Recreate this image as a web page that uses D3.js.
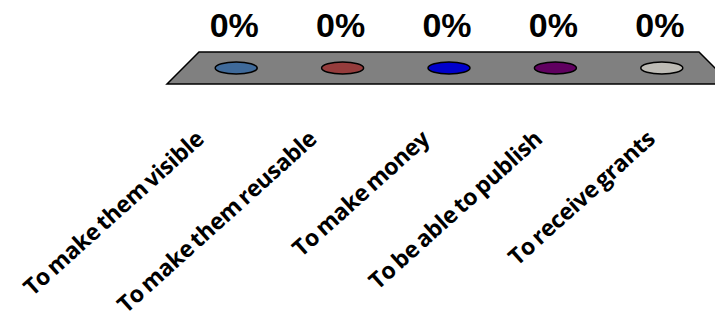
<!DOCTYPE html>
<html>
<head>
<meta charset="utf-8">
<script src="https://cdn.jsdelivr.net/npm/d3@7"></script>
<style>
  html, body { margin: 0; padding: 0; background: #fff; }
  svg { display: block; }
</style>
</head>
<body>
<svg id="chart" width="715" height="320"></svg>
<script>
// Reasons given, share of answers per reason
const categories = [
  "To make them visible",
  "To make them reusable",
  "To make money",
  "To be able to publish",
  "To receive grants"
];
const values = [0, 0, 0, 0, 0];
const colors = ["#3F6A9A", "#953C3C", "#0000CC", "#600060", "#BDBBB5"];

const svg = d3.select("#chart");

// Floor of the 3D plot: back edge, depth-middle line and front edge
const floorBackY = 52, floorFrontY = 84, floorMidY = (floorBackY + floorFrontY) / 2;
const xBack = d3.scaleBand().domain(categories).range([199, 699]);
const xMid = d3.scaleBand().domain(categories).range([183, 715]);
const xFront = d3.scaleBand().domain(categories).range([167, 731]);

// Vertical value scale (bars grow upward from the floor)
const y = d3.scaleLinear().domain([0, 1]).range([floorMidY, floorMidY - 120]);

// Floor
const [b0, b1] = xBack.range(), [f0, f1] = xFront.range();
svg.append("path")
  .attr("d", d3.line()([[b0, floorBackY], [b1, floorBackY], [f1, floorFrontY], [f0, floorFrontY]]) + "Z")
  .attr("fill", "#808080")
  .attr("stroke", "#000")
  .attr("stroke-width", 1.5);

// Cylinders: body and cap; with a zero value only the cap remains
const rx = 21, ry = 6;
const bars = svg.append("g").selectAll("g")
  .data(categories.map((c, i) => ({ c, v: values[i], color: colors[i] })))
  .join("g");

bars.append("rect")
  .attr("x", d => xMid(d.c) + xMid.bandwidth() / 2 - rx)
  .attr("y", d => y(d.v))
  .attr("width", rx * 2)
  .attr("height", d => y(0) - y(d.v))
  .attr("fill", d => d.color);

bars.append("ellipse")
  .attr("cx", d => xMid(d.c) + xMid.bandwidth() / 2)
  .attr("cy", d => y(d.v))
  .attr("rx", rx)
  .attr("ry", ry)
  .attr("fill", d => d.color)
  .attr("stroke", "#000")
  .attr("stroke-width", 1.5);

// Value labels
const pct = d3.format(".0%");
svg.append("g").selectAll("text")
  .data(categories.map((c, i) => ({ c, v: values[i] })))
  .join("text")
  .attr("x", d => xMid(d.c) + xMid.bandwidth() / 2 - 2)
  .attr("y", d => y(d.v) - 31)
  .attr("text-anchor", "middle")
  .attr("font-family", "'Liberation Sans', Arial, sans-serif")
  .attr("font-weight", "bold")
  .attr("font-size", 34)
  .attr("fill", "#000")
  .text(d => pct(d.v));

// Category labels, rotated under the front edge
svg.append("g").selectAll("text")
  .data(categories)
  .join("text")
  .attr("transform", d => `translate(${xFront(d) + xFront.bandwidth() / 2 - 18},141) rotate(-42)`)
  .attr("text-anchor", "end")
  .attr("font-family", "'Open Sans', sans-serif")
  .attr("font-weight", "bold")
  .attr("font-size", 23)
  .attr("word-spacing", -2)
  .attr("letter-spacing", -0.3)
  .attr("fill", "#000")
  .text(d => d);
</script>
</body>
</html>
